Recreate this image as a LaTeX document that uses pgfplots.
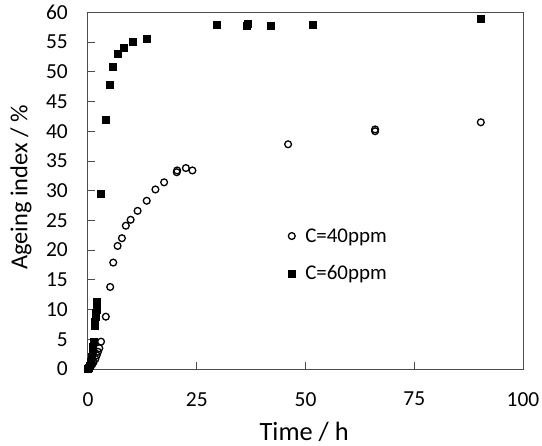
\documentclass[border=0pt]{standalone}
\usepackage{fontspec}
\setmainfont{Carlito}
\usepackage{pgfplots}
\pgfplotsset{compat=1.18}
\newcommand\legfont{\fontsize{21}{24}\selectfont}
\begin{document}
\begin{tikzpicture}
\begin{axis}[
 scale only axis, width=435bp, height=356.7bp,
 xmin=0,xmax=100,ymin=0,ymax=60,
 xtick={0,25,...,100}, ytick={0,5,...,60},
 tick align=inside, xtick pos=bottom, ytick pos=left,
 major tick length=7bp,
 axis line style={black!70, line width=1bp},
 tick style={black!70, line width=0.8bp},
 /pgf/number format/assume math mode=true,
 tick label style={font=\fontsize{21.5}{24}\selectfont, inner sep=0pt},
 xticklabel style={anchor=north, yshift=-23bp},
 yticklabel style={anchor=east, xshift=-20bp},
 xlabel={Time / h},
 ylabel={Ageing index / \%},
 xlabel style={font=\fontsize{26.5}{30}\selectfont, at={(axis description cs:0.497,-0.177)}, anchor=center},
 ylabel style={font=\fontsize{24.5}{28}\selectfont, at={(axis description cs:-0.154,0.509)}, anchor=center, rotate=0},
 legend image code/.code={\draw[#1] plot coordinates {(0bp,0bp)};},
 legend style={draw=none, fill=none, at={(axis cs:46.0,24.0)}, anchor=north west,
   row sep=18bp, column sep=8bp, inner sep=0pt,
   cells={anchor=west}},
 legend cell align=left,
 clip=false,
]
\addplot[only marks, mark=o, mark size=3.4bp, mark options={line width=1.3bp, black}] coordinates {
(0,0) (0.3,0.2) (0.7,0.5) (1.0,0.8) (1.3,1.2) (1.7,1.7) (2.0,2.3) (2.3,2.9) (2.6,3.5)
(3.0,4.6) (4.1,8.8) (5.1,13.8) (5.8,17.9) (6.8,20.7) (7.8,22.0) (8.7,24.1) (9.8,25.1)
(11.4,26.6) (13.5,28.3) (15.5,30.2) (17.5,31.4) (20.4,33.1) (20.5,33.4) (22.5,33.8)
(24.0,33.4) (46.0,37.8) (66.0,40.0) (66.0,40.3) (90.3,41.5)
};
\addlegendentry{\legfont C=40ppm}
\addplot[only marks, mark=square*, mark size=3.5bp, mark options={black, fill=black}] coordinates {
(0,0) (0.2,0.3) (0.4,0.6) (0.6,1.2) (0.8,2.0) (1.0,3.0) (1.1,3.8) (1.2,4.6) (1.5,7.2)
(1.6,8.0) (1.7,8.8) (1.8,9.5) (1.9,10.0) (2.0,11.4) (3.0,29.5) (4.1,42.0) (5.1,47.8)
(5.7,50.9) (6.8,53.0) (8.3,54.1) (10.3,55.0) (13.4,55.6) (29.6,57.9) (36.5,57.8)
(36.7,58.0) (42.0,57.7) (51.6,57.9) (90.3,59.0)
};
\addlegendentry{\legfont C=60ppm}
\end{axis}
\pgfresetboundingbox
\path ([shift={(-88bp,-77bp)}]current axis.south west) rectangle ([shift={(19bp,12.3bp)}]current axis.north east);
\end{tikzpicture}
\end{document}
